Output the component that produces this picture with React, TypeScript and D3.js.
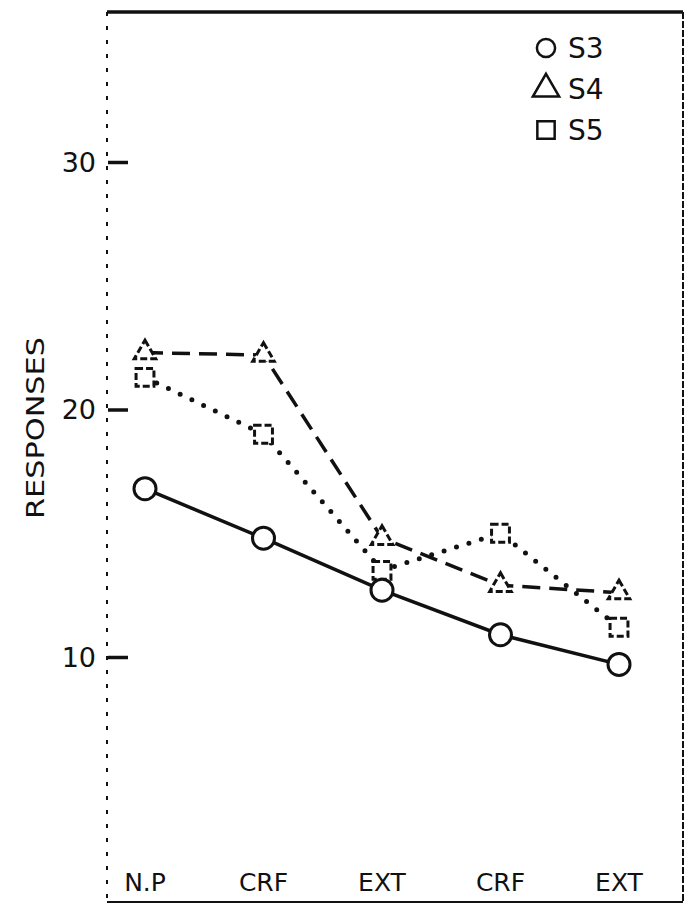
import { useEffect, useRef } from "react";
import * as d3 from "d3";

const categories = ["N.P", "CRF", "EXT", "CRF", "EXT"];
const s3 = [16.8, 14.8, 12.7, 10.9, 9.7];
const s4 = [22.3, 22.2, 14.8, 12.9, 12.6];
const s5 = [21.3, 19.0, 13.5, 15.0, 11.2];
const yTicks = [10, 20, 30];
const seriesNames = ["S3", "S4", "S5"];

const App = () => {
  const svgRef = useRef<SVGSVGElement>(null);

  const dims = {
    width: 693,
    height: 905,
    left: 107,
    right: 683,
    top: 12,
    bottom: 902,
  };

  useEffect(() => {
    const svg = d3.select(svgRef.current);
    svg.selectAll("*").remove();

    const x = d3
      .scalePoint<number>()
      .domain(categories.map((_, i) => i))
      .range([145, 619]);
    const y = d3.scaleLinear().domain([10, 30]).range([657, 162]);

    svg
      .append("rect")
      .attr("width", dims.width)
      .attr("height", dims.height)
      .attr("fill", "white");

    const ink = "#111";

    // frame
    svg
      .append("line")
      .attr("x1", dims.left)
      .attr("x2", dims.right)
      .attr("y1", dims.top)
      .attr("y2", dims.top)
      .attr("stroke", ink)
      .attr("stroke-width", 3.5);
    svg
      .append("line")
      .attr("x1", dims.right)
      .attr("x2", dims.right)
      .attr("y1", dims.top)
      .attr("y2", dims.bottom)
      .attr("stroke", ink)
      .attr("stroke-width", 2)
      .attr("stroke-dasharray", "7 2");
    svg
      .append("line")
      .attr("x1", dims.left)
      .attr("x2", dims.right)
      .attr("y1", dims.bottom)
      .attr("y2", dims.bottom)
      .attr("stroke", ink)
      .attr("stroke-width", 2);
    svg
      .append("line")
      .attr("x1", dims.left)
      .attr("x2", dims.left)
      .attr("y1", dims.top)
      .attr("y2", dims.bottom)
      .attr("stroke", ink)
      .attr("stroke-width", 2)
      .attr("stroke-dasharray", "4 10");

    // y axis ticks (drawn inward)
    const yAxis = d3
      .axisRight(y)
      .tickValues(yTicks)
      .tickSize(20)
      .tickFormat(() => "");
    const yg = svg
      .append("g")
      .attr("transform", `translate(${dims.left + 1},0)`)
      .call(yAxis);
    yg.select(".domain").remove();
    yg.selectAll(".tick line").attr("stroke", ink).attr("stroke-width", 3.5);

    svg
      .append("g")
      .selectAll("text")
      .data(yTicks)
      .enter()
      .append("text")
      .attr("x", 96)
      .attr("y", (d) => y(d))
      .attr("dy", "0.36em")
      .attr("text-anchor", "end")
      .attr("font-family", "DejaVu Sans")
      .attr("font-size", 27)
      .attr("fill", ink)
      .text((d) => d);

    svg
      .append("text")
      .attr("transform", "translate(44,428) rotate(-90)")
      .attr("text-anchor", "middle")
      .attr("font-family", "DejaVu Sans")
      .attr("font-size", 24)
      .attr("textLength", 182)
      .attr("lengthAdjust", "spacingAndGlyphs")
      .attr("fill", ink)
      .text("RESPONSES");

    // x labels
    svg
      .append("g")
      .selectAll("text")
      .data(categories)
      .enter()
      .append("text")
      .attr("x", (_, i) => x(i)!)
      .attr("y", 891)
      .attr("text-anchor", "middle")
      .attr("font-family", "DejaVu Sans")
      .attr("font-size", 25)
      .attr("fill", ink)
      .text((d) => d);

    const line = d3
      .line<number>()
      .x((_, i) => x(i)!)
      .y((d) => y(d));

    svg
      .append("path")
      .datum(s3)
      .attr("d", line)
      .attr("fill", "none")
      .attr("stroke", ink)
      .attr("stroke-width", 3.5);
    svg
      .append("path")
      .datum(s4)
      .attr("d", line)
      .attr("fill", "none")
      .attr("stroke", ink)
      .attr("stroke-width", 3.5)
      .attr("stroke-dasharray", "18 9");
    svg
      .append("path")
      .datum(s5)
      .attr("d", line)
      .attr("fill", "none")
      .attr("stroke", ink)
      .attr("stroke-width", 5)
      .attr("stroke-linecap", "round")
      .attr("stroke-dasharray", "0 13");

    const circle = d3.symbol().type(d3.symbolCircle).size(Math.PI * 11 * 11);
    const triangle = d3.symbol().type(d3.symbolTriangle).size(200);
    const square = d3.symbol().type(d3.symbolSquare).size(320);

    const drawMarks = (
      data: number[],
      path: d3.Symbol<any, any>,
      dashed: boolean,
    ) => {
      svg
        .append("g")
        .selectAll("path")
        .data(data)
        .enter()
        .append("path")
        .attr("transform", (d, i) => `translate(${x(i)},${y(d)})`)
        .attr("d", path as any)
        .attr("fill", "white")
        .attr("stroke", ink)
        .attr("stroke-width", 3)
        .attr("stroke-dasharray", dashed ? "7 3" : null);
    };
    drawMarks(s4, triangle, true);
    drawMarks(s5, square, true);
    drawMarks(s3, circle, false);

    // legend
    const legendSizes = [260, 300, 300];
    const legendSymbols = [d3.symbolCircle, d3.symbolTriangle, d3.symbolSquare];
    const legend = svg
      .append("g")
      .selectAll("g")
      .data(seriesNames)
      .enter()
      .append("g")
      .attr("transform", (_, i) => `translate(546,${48 + i * 41})`);
    legend
      .append("path")
      .attr("d", (_, i) =>
        d3.symbol().type(legendSymbols[i]).size(legendSizes[i])(),
      )
      .attr("fill", "white")
      .attr("stroke", ink)
      .attr("stroke-width", 2.5);
    legend
      .append("text")
      .attr("x", 22)
      .attr("dy", "0.36em")
      .attr("font-family", "DejaVu Sans")
      .attr("font-size", 28)
      .attr("fill", ink)
      .text((d) => d);
  }, []);

  return (
    <svg
      ref={svgRef}
      width={dims.width}
      height={dims.height}
      style={{ position: "absolute", left: 0, top: 0 }}
    ></svg>
  );
};

export default App;
